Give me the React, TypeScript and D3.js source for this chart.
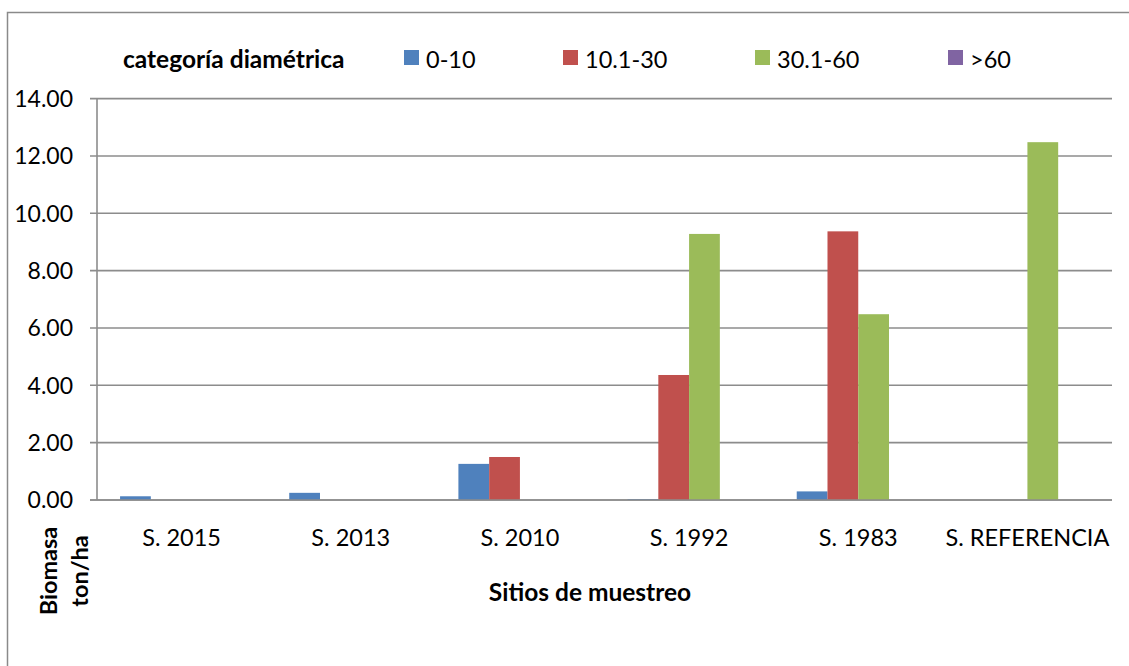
import React from "react";
import * as d3 from "d3";

const categories = ["S. 2015", "S. 2013", "S. 2010", "S. 1992", "S. 1983", "S. REFERENCIA"];
const seriesNames = ["0-10", "10.1-30", "30.1-60", ">60"];
const serie0_10 = [0.13, 0.25, 1.26, 0.03, 0.3, 0];
const serie10_30 = [0, 0, 1.5, 4.36, 9.37, 0];
const serie30_60 = [0, 0, 0, 9.28, 6.48, 12.48];
const serie60 = [0, 0, 0, 0, 0, 0];
const yTicks = [0, 2, 4, 6, 8, 10, 12, 14];
const colors = ["#4F81BD", "#C0504D", "#9BBB59", "#8064A2"];
const legendTitle = "categoría diamétrica";
const xTitle = "Sitios de muestreo";
const yTitleLines = ["Biomasa", "ton/ha"];

const W = 1129;
const H = 666;
const FONT = "Lato, 'Noto Sans', sans-serif";

export default function App() {
  const values = [serie0_10, serie10_30, serie30_60, serie60];
  const left = 97, right = 1112, top = 98.6, bottom = 500;
  const y = d3.scaleLinear().domain([0, 14]).range([bottom, top]);
  const x0 = d3.scaleBand<string>().domain(categories).range([left, right]).padding(0);
  const x1 = d3
    .scaleBand<string>()
    .domain(seriesNames)
    .range([0, x0.bandwidth()])
    .paddingInner(0)
    .paddingOuter(0.75);
  const legendX = [404, 563, 755, 948];
  const grid = "#8c8c8c";

  return (
    <svg
      width={W}
      height={H}
      style={{ position: "absolute", left: 0, top: 0, background: "#fff" }}
      fontFamily={FONT}
    >
      <rect x={7.5} y={12.5} width={1140} height={680} fill="#fff" stroke="#8a8a8a" strokeWidth={1.5} />
      {/* gridlines */}
      {yTicks.map((t) => (
        <line key={"g" + t} x1={left - 7} x2={right} y1={y(t)} y2={y(t)} stroke={grid} strokeWidth={1.6} />
      ))}
      {/* y axis */}
      <line x1={left} x2={left} y1={top} y2={bottom} stroke={grid} strokeWidth={1.6} />
      {yTicks.map((t) => (
        <text key={"yt" + t} x={73} y={y(t)} dy="0.36em" textAnchor="end" fontSize={23} fill="#000">
          {t.toFixed(2)}
        </text>
      ))}
      {/* bars */}
      {categories.map((c, ci) => (
        <g key={c} transform={`translate(${x0(c)},0)`}>
          {seriesNames.map((s, si) => {
            const v = values[si][ci];
            if (!v) return null;
            return (
              <rect
                key={s}
                x={x1(s)}
                y={y(v)}
                width={x1.bandwidth()}
                height={y(0) - y(v)}
                fill={colors[si]}
              />
            );
          })}
        </g>
      ))}
      {/* x axis line on top of bars */}
      <line x1={left - 7} x2={right} y1={bottom} y2={bottom} stroke={grid} strokeWidth={1.6} />
      {categories.map((c) => (
        <text key={"xt" + c} x={(x0(c) as number) + x0.bandwidth() / 2} y={546} textAnchor="middle" fontSize={23.5} fill="#000">
          {c}
        </text>
      ))}
      {/* x title */}
      <text x={590} y={601} textAnchor="middle" fontSize={24.5} fontWeight="bold" fill="#000">
        {xTitle}
      </text>
      {/* y title */}
      <g transform="translate(57,571) rotate(-90)">
        <text x={0} y={0} textAnchor="middle" fontSize={23.5} fontWeight="bold" fill="#000">
          {yTitleLines[0]}
        </text>
        <text x={0} y={31} textAnchor="middle" fontSize={23.5} fontWeight="bold" fill="#000">
          {yTitleLines[1]}
        </text>
      </g>
      {/* legend */}
      <text x={123} y={68} fontSize={24.5} fontWeight="bold" fill="#000">
        {legendTitle}
      </text>
      {seriesNames.map((s, i) => (
        <g key={"lg" + s}>
          <rect x={legendX[i]} y={50} width={15} height={15} fill={colors[i]} />
          <text x={legendX[i] + 22} y={68} fontSize={23.5} fill="#000">
            {s}
          </text>
        </g>
      ))}
    </svg>
  );
}
